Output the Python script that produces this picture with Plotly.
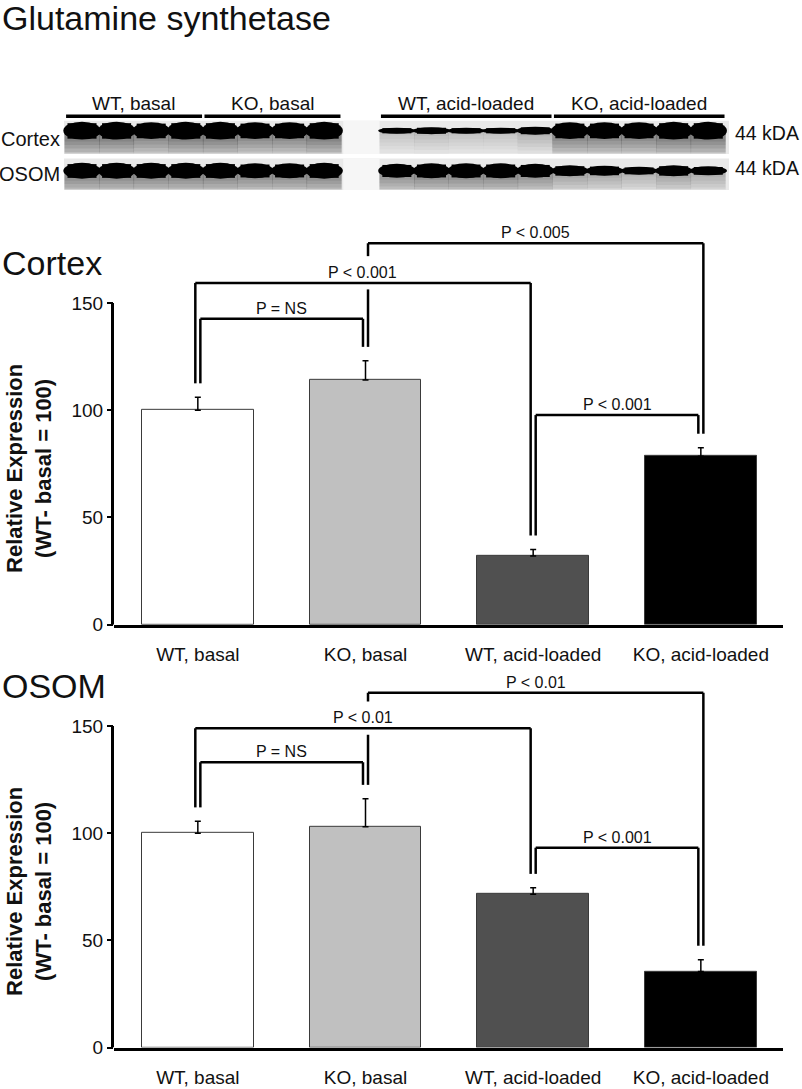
import plotly.graph_objects as go

# ---------------- data ----------------
categories = ["WT, basal", "KO, basal", "WT, acid-loaded", "KO, acid-loaded"]
cortex_mean = [100, 114, 32, 78.5]
cortex_sem = [6, 9, 3, 4]
osom_mean = [100, 103, 71.5, 35.5]
osom_sem = [5.5, 13, 3, 5.5]
y_ticks = [0, 50, 100, 150]

cortex_pairs = [(0, 1), (0, 2), (1, 3), (2, 3)]
cortex_p_labels = ["P = NS", "P < 0.001", "P < 0.005", "P < 0.001"]
osom_pairs = [(0, 1), (0, 2), (1, 3), (2, 3)]
osom_p_labels = ["P = NS", "P < 0.01", "P < 0.01", "P < 0.001"]

# western blot: lanes per group and band thickness (px) per lane
blot_lanes = [4, 4, 5, 5]
cortex_band = [18, 18, 17, 18, 18, 17, 17, 18, 6, 7, 6, 6, 8, 17, 17, 17, 18, 18]
osom_band = [16, 16, 16, 16, 16, 15, 15, 16, 14, 15, 15, 15, 14, 11, 10, 8, 11, 9]

# ---------------- style / layout ----------------
W, H = 802, 1089
FONT = "Arial, Liberation Sans, sans-serif"
TXT = "#111111"
bar_colors = ["#ffffff", "#c0c0c0", "#505050", "#000000"]
PX_PER_UNIT = 2.1667
YMAX = 185
X0PX, X1PX = 114, 783
cortex_zero_px = 631.0
osom_zero_px = 1058.3
cortex_levels = [142.6, 159.3, 177.8, 97.7]
osom_levels = [133.0, 148.9, 165.5, 93.2]
leg_sides = [(+1, -1), (-1, -1), (+1, +1), (+1, -1)]
LEG_HALF = 0.015
LEG_GAP = 6.5


def py2p(py):
    return 1 - py / H


fig = go.Figure()
shapes = []
annotations = []


def add_panel(means, sems, pairs, labels, levels, xa, ya, zero_px):
    xr = "x" if xa == "xaxis" else "x" + xa[5:]
    yr = "y" if ya == "yaxis" else "y" + ya[5:]
    fig.add_trace(go.Bar(
        x=list(range(len(categories))), y=means, width=0.667,
        marker=dict(color=bar_colors, line=dict(color="#3a3a3a", width=1)),
        error_y=dict(type="data", array=sems, arrayminus=[0] * len(sems),
                     symmetric=False, color="black", thickness=1.5, width=3),
        xaxis=xr, yaxis=yr, hoverinfo="skip"))
    dom_y = [py2p(zero_px), py2p(zero_px - YMAX * PX_PER_UNIT)]
    fig.layout[xa] = dict(domain=[X0PX / W, X1PX / W], range=[-0.5, 3.49],
                          tickmode="array", tickvals=list(range(len(categories))),
                          ticktext=categories, ticks="", showline=True, linewidth=3,
                          linecolor="black", showgrid=False, zeroline=False,
                          ticklabelstandoff=11,
                          tickfont=dict(family=FONT, size=19, color=TXT), anchor=yr,
                          fixedrange=True)
    fig.layout[ya] = dict(domain=dom_y, range=[0, YMAX], tickmode="array", tickvals=y_ticks,
                          ticks="outside", ticklen=6, tickwidth=2, tickcolor="black",
                          showline=False, showgrid=False, zeroline=False,
                          tickfont=dict(family=FONT, size=19, color=TXT), anchor=xr,
                          fixedrange=True)
    # y axis line (only 0..150)
    shapes.append(dict(type="line", xref="paper", yref=yr, x0=(X0PX - 1.5) / W, x1=(X0PX - 1.5) / W,
                       y0=0, y1=max(y_ticks), line=dict(color="black", width=3)))
    # significance brackets
    tops = [m + s + LEG_GAP for m, s in zip(means, sems)]
    spans = []
    for (i, j), lev, (si, sj) in zip(pairs, levels, leg_sides):
        spans.append((i + si * LEG_HALF, j + sj * LEG_HALF, lev))
    for k, ((i, j), lab, lev) in enumerate(zip(pairs, labels, levels)):
        xl, xrr, _ = spans[k]
        shapes.append(dict(type="line", xref=xr, yref=yr, x0=xl, x1=xrr, y0=lev, y1=lev,
                           line=dict(color="black", width=2.5)))
        for xleg, bar in ((xl, i), (xrr, j)):
            segs = [(tops[bar], lev)]
            for m, (a, b, lv) in enumerate(spans):
                if m != k and a < xleg < b and tops[bar] < lv < lev:
                    new = []
                    for s0, s1 in segs:
                        g0, g1 = lv - 3.0, lv + 12.5
                        if s0 < g0:
                            new.append((s0, g0))
                        if s1 > g1:
                            new.append((g1, s1))
                    segs = new
            for s0, s1 in segs:
                shapes.append(dict(type="line", xref=xr, yref=yr, x0=xleg, x1=xleg, y0=s0, y1=s1,
                                   line=dict(color="black", width=2.5)))
        annotations.append(dict(xref=xr, yref=yr, x=(xl + xrr) / 2, y=lev, text=lab,
                                showarrow=False, yanchor="bottom", yshift=0,
                                font=dict(family=FONT, size=16, color=TXT)))
    annotations.append(dict(xref="paper", yref=yr, x=29 / W, y=72.6,
                            text="<b>Relative Expression</b><br><b>(WT- basal = 100)</b>",
                            textangle=-90, showarrow=False, xanchor="center", yanchor="middle",
                            font=dict(family=FONT, size=22, color=TXT)))


add_panel(cortex_mean, cortex_sem, cortex_pairs, cortex_p_labels, cortex_levels,
          "xaxis", "yaxis", cortex_zero_px)
add_panel(osom_mean, osom_sem, osom_pairs, osom_p_labels, osom_levels,
          "xaxis2", "yaxis2", osom_zero_px)

# ---------------- western blot (subplot x3/y3, px-like units) ----------------
LANE_PX, LANE0_PX = 34.6, 82
fig.layout["xaxis3"] = dict(domain=[0, 1], range=[-LANE0_PX / LANE_PX, (W - LANE0_PX) / LANE_PX],
                            visible=False, anchor="y3", fixedrange=True)
fig.layout["yaxis3"] = dict(domain=[py2p(200), py2p(88)], range=[200, 88],
                            visible=False, anchor="x3", fixedrange=True)
lane_x = []
pos = 0.0
group_span = []
for g, n in enumerate(blot_lanes):
    if g == 2:
        pos += 1.1
    start = pos
    for k in range(n):
        lane_x.append(pos)
        pos += 1
    group_span.append((start, pos - 1))
fig.add_trace(go.Scatter(x=lane_x, y=[150] * len(lane_x), mode="markers",
                         marker=dict(opacity=0), xaxis="x3", yaxis="y3", hoverinfo="skip"))

rows = [(cortex_band, 132.0, 122, 155.5), (osom_band, 172.5, 160, 192)]
left_end = (64 - LANE0_PX) / LANE_PX
right_end = (729 - LANE0_PX) / LANE_PX
for bands, cy, top, bot in rows:
    shapes.append(dict(type="rect", xref="x3", yref="y3", x0=left_end, x1=right_end, y0=top, y1=bot,
                       fillcolor="#e9e9e9", line=dict(width=0), layer="below"))
    shapes.append(dict(type="rect", xref="x3", yref="y3", x0=7.55, x1=8.6, y0=top, y1=bot,
                       fillcolor="#f6f6f6", line=dict(width=0), layer="below"))
    for x, t in zip(lane_x, bands):
        f = t / 18.0
        # smear below the band: stacked translucent layers give a soft gradient
        for step in range(6):
            y1 = min(bot - 0.5, cy + t / 2 + 2 + step * 3.5)
            shapes.append(dict(type="rect", xref="x3", yref="y3", x0=x - 0.505, x1=x + 0.505,
                               y0=cy, y1=y1, fillcolor="rgba(0,0,0,%.3f)" % (0.085 * f),
                               line=dict(width=0), layer="below"))
        shapes.append(dict(type="circle", xref="x3", yref="y3", x0=x - 0.54, x1=x + 0.54,
                           y0=cy - t / 2, y1=cy + t / 2, fillcolor="black", line=dict(width=0)))
        shapes.append(dict(type="rect", xref="x3", yref="y3", x0=x - 0.42, x1=x + 0.42,
                           y0=cy - t * 0.42, y1=cy + t * 0.45, fillcolor="black", line=dict(width=0)))

for (a, b), name in zip(group_span, categories):
    shapes.append(dict(type="line", xref="x3", yref="y3", x0=a - 0.46, x1=b + 0.47, y0=117.5, y1=117.5,
                       line=dict(color="black", width=3.5)))
    annotations.append(dict(xref="x3", yref="y3", x=(a + b) / 2, y=104.5, text=name, showarrow=False,
                            xanchor="center", yanchor="middle",
                            font=dict(family=FONT, size=19, color=TXT)))

for name, py in (("Cortex", 140), ("OSOM", 176)):
    annotations.append(dict(xref="paper", yref="paper", x=62 / W, y=py2p(py), text=name,
                            showarrow=False, xanchor="right", yanchor="middle",
                            font=dict(family=FONT, size=20, color=TXT)))
for py in (134, 170):
    annotations.append(dict(xref="paper", yref="paper", x=733 / W, y=py2p(py), text="44 kDA",
                            showarrow=False, xanchor="left", yanchor="middle",
                            font=dict(family=FONT, size=19.5, color=TXT)))

# titles
for text, py in (("Glutamine synthetase", 18), ("Cortex", 266), ("OSOM", 693)):
    annotations.append(dict(xref="paper", yref="paper", x=0, y=py2p(py), text=text,
                            showarrow=False, xanchor="left", yanchor="middle",
                            font=dict(family=FONT, size=34, color=TXT)))

fig.update_layout(width=W, height=H, margin=dict(l=0, r=0, t=0, b=0, pad=0),
                  plot_bgcolor="white", paper_bgcolor="white", showlegend=False,
                  shapes=shapes, annotations=annotations, bargap=0)
fig.write_html("out.html", config={"displayModeBar": False},
               post_script="document.body.style.margin='0';")
